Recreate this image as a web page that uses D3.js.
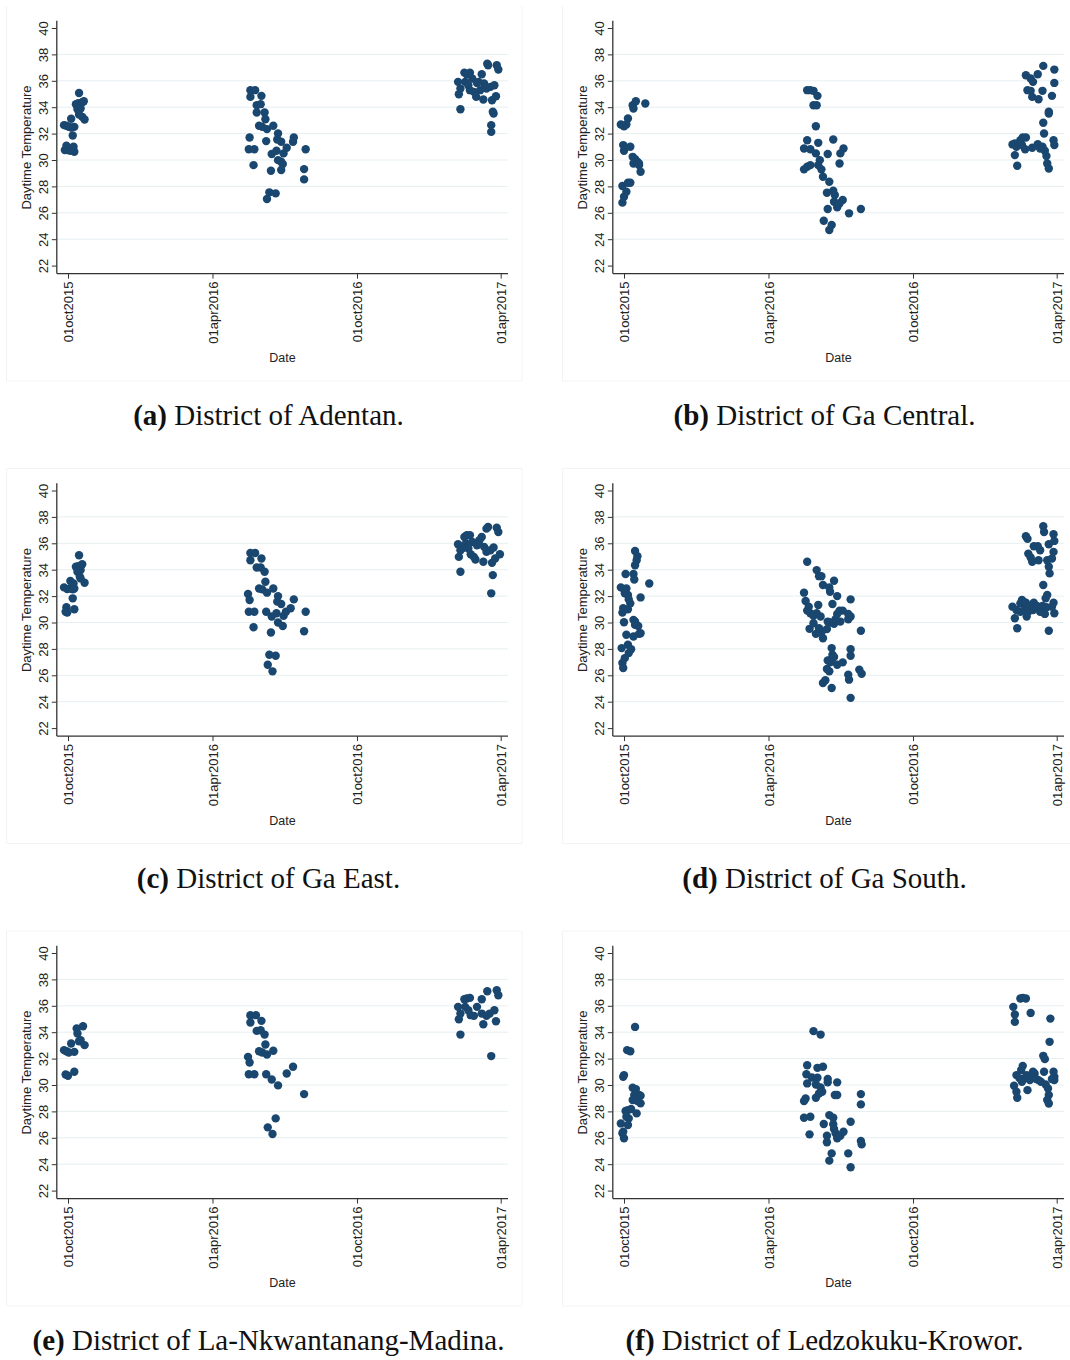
<!DOCTYPE html>
<html>
<head>
<meta charset="utf-8">
<script src="https://cdn.jsdelivr.net/npm/d3@7"></script>
<style>
  body { margin: 0; background: #fff; }
  svg { display: block; }
</style>
</head>
<body>
<svg id="chart" width="1070" height="1360"></svg>
<script>
// daytime temperature readings, [date, degrees]
const adentan = [
  ["2015-09-26",32.64],["2015-09-29",32.6],["2015-10-02",32.51],["2015-10-05",32.46],["2015-10-09",32.51],["2015-10-05",33.12],
  ["2015-09-29",31.08],["2015-09-30",30.75],["2015-09-27",30.75],["2015-10-04",30.7],["2015-10-07",31.86],["2015-10-08",31.0],
  ["2015-10-09",30.62],["2015-10-11",34.23],["2015-10-14",34.3],["2015-10-15",35.08],["2015-10-13",33.85],["2015-10-17",33.9],
  ["2015-10-19",34.38],["2015-10-21",34.45],["2015-10-19",33.27],["2015-10-22",33.07],["2015-10-15",33.45],
  ["2016-05-19",35.29],["2016-05-25",35.29],["2016-05-19",34.78],["2016-06-02",34.86],["2016-05-27",34.15],["2016-06-01",34.23],
  ["2016-05-27",33.6],["2016-06-06",33.6],["2016-06-07",33.09],["2016-05-30",32.59],["2016-06-03",32.51],["2016-06-09",32.34],
  ["2016-06-17",32.59],["2016-05-18",31.7],["2016-06-08",31.43],["2016-06-23",32.01],["2016-06-22",31.55],["2016-06-27",31.38],
  ["2016-07-13",31.7],["2016-07-12",31.38],["2016-05-17",30.82],["2016-05-24",30.82],["2016-07-04",30.93],["2016-06-21",30.7],
  ["2016-06-15",30.45],["2016-06-30",30.5],["2016-06-23",29.99],["2016-06-27",29.87],["2016-06-29",29.69],["2016-05-23",29.61],
  ["2016-06-14",29.19],["2016-06-27",29.24],["2016-07-28",30.82],["2016-07-26",29.31],["2016-07-26",28.53],["2016-06-12",27.55],
  ["2016-06-20",27.47],["2016-06-09",27.04],
  ["2017-02-06",35.92],["2017-02-07",34.98],["2017-02-09",33.85],["2017-02-09",35.41],["2017-02-14",36.62],["2017-02-17",36.5],
  ["2017-02-21",36.62],["2017-02-15",35.92],["2017-02-19",35.66],["2017-02-24",36.17],["2017-02-21",35.29],["2017-02-26",35.16],
  ["2017-03-01",34.78],["2017-03-02",35.84],["2017-03-08",36.5],["2017-03-10",34.58],["2017-03-11",35.79],["2017-03-14",35.41],
  ["2017-03-16",37.18],["2017-03-15",37.3],["2017-03-19",35.54],["2017-03-21",34.53],["2017-03-24",35.66],["2017-03-22",33.65],
  ["2017-03-23",33.52],["2017-03-20",32.64],["2017-03-20",32.13],["2017-03-26",34.83],["2017-03-27",37.18],["2017-03-29",36.85],
  ["2017-03-06",35.29],["2017-03-04",35.92]
];

const gaCentral = [
  ["2015-09-27",32.69],["2015-10-01",32.56],["2015-10-04",32.69],["2015-10-06",33.14],["2015-09-30",31.13],["2015-10-01",30.7],
  ["2015-10-09",31.0],["2015-09-29",28.03],["2015-10-06",28.28],["2015-10-09",28.28],["2015-10-04",27.6],["2015-10-01",27.22],
  ["2015-09-29",26.77],["2015-10-12",34.15],["2015-10-16",34.45],["2015-10-13",33.9],["2015-10-28",34.28],["2015-10-12",30.24],
  ["2015-10-15",30.07],["2015-10-18",29.87],["2015-10-13",29.74],["2015-10-20",29.61],["2015-10-22",29.11],["2015-10-20",29.74],
  ["2016-05-20",35.29],["2016-05-24",35.29],["2016-05-28",35.24],["2016-06-02",34.86],["2016-05-28",34.15],["2016-06-01",34.15],
  ["2016-05-31",32.56],["2016-05-20",31.5],["2016-06-03",31.3],["2016-06-22",31.55],["2016-05-16",30.87],["2016-05-24",30.82],
  ["2016-05-31",30.5],["2016-06-15",30.45],["2016-07-05",30.87],["2016-07-01",30.5],["2016-05-16",29.29],["2016-05-20",29.49],
  ["2016-05-24",29.61],["2016-06-05",29.99],["2016-06-03",29.61],["2016-06-07",29.29],["2016-06-30",29.74],["2016-06-09",28.73],
  ["2016-06-17",28.35],["2016-06-14",27.52],["2016-06-22",27.67],["2016-06-24",27.35],["2016-06-23",26.84],["2016-06-27",26.41],
  ["2016-06-30",26.72],["2016-07-04",26.97],["2016-06-15",26.29],["2016-07-12",25.96],["2016-07-27",26.29],["2016-06-10",25.4],
  ["2016-06-17",24.7],["2016-06-20",25.08],
  ["2017-02-04",31.18],["2017-02-07",30.37],["2017-02-10",29.56],["2017-02-07",31.25],["2017-02-09",31.0],["2017-02-14",31.5],
  ["2017-02-17",31.71],["2017-02-21",31.71],["2017-02-20",30.82],["2017-02-16",31.13],["2017-03-01",30.93],["2017-03-08",31.2],
  ["2017-03-11",30.87],["2017-03-14",31.0],["2017-03-17",30.7],["2017-03-19",30.3],["2017-03-20",29.74],["2017-03-22",29.36],
  ["2017-03-28",31.5],["2017-03-29",31.13],["2017-02-21",36.42],["2017-02-27",36.17],["2017-03-02",35.92],["2017-03-08",36.5],
  ["2017-03-15",37.13],["2017-03-29",36.85],["2017-03-29",35.84],["2017-02-23",35.29],["2017-02-27",35.24],["2017-03-01",34.78],
  ["2017-03-14",35.24],["2017-03-09",34.6],["2017-03-26",34.86],["2017-03-22",33.65],["2017-03-22",33.52],["2017-03-15",32.82],
  ["2017-03-16",32.01]
];

const gaEast = [
  ["2015-09-26",32.66],["2015-09-30",32.53],["2015-10-04",32.58],["2015-10-07",32.51],["2015-10-09",32.58],["2015-10-04",33.14],
  ["2015-10-08",32.96],["2015-10-07",31.83],["2015-09-29",31.15],["2015-09-30",30.75],["2015-09-28",30.82],["2015-10-09",31.0],
  ["2015-10-11",34.22],["2015-10-15",35.1],["2015-10-14",34.27],["2015-10-17",33.97],["2015-10-19",34.42],["2015-10-13",33.84],
  ["2015-10-17",33.34],["2015-10-22",33.01],["2015-10-16",33.46],
  ["2016-05-19",35.27],["2016-05-25",35.27],["2016-05-19",34.72],["2016-06-02",34.85],["2016-05-27",34.17],["2016-06-01",34.17],
  ["2016-06-06",33.84],["2016-06-07",33.09],["2016-05-30",32.58],["2016-06-03",32.51],["2016-06-09",32.26],["2016-06-17",32.58],
  ["2016-05-16",32.16],["2016-05-18",31.7],["2016-05-17",30.82],["2016-05-24",30.82],["2016-05-23",29.64],["2016-06-08",30.82],
  ["2016-06-14",29.24],["2016-06-23",32.0],["2016-06-22",31.58],["2016-06-27",31.4],["2016-06-21",30.7],["2016-06-15",30.45],
  ["2016-06-30",30.5],["2016-06-23",30.0],["2016-06-29",29.74],["2016-07-03",30.82],["2016-07-09",31.08],["2016-07-13",31.75],
  ["2016-07-28",30.82],["2016-07-26",29.34],["2016-06-12",27.56],["2016-06-20",27.48],["2016-06-10",26.8],["2016-06-16",26.3],
  ["2017-02-06",35.93],["2017-02-07",34.97],["2017-02-09",33.84],["2017-02-09",35.47],["2017-02-14",36.48],["2017-02-17",36.61],
  ["2017-02-21",36.61],["2017-02-16",35.98],["2017-02-19",35.6],["2017-02-24",36.1],["2017-02-22",35.17],["2017-02-28",34.77],
  ["2017-03-02",35.85],["2017-03-04",36.1],["2017-03-08",36.48],["2017-03-10",34.6],["2017-03-11",35.73],["2017-03-14",35.35],
  ["2017-03-16",37.23],["2017-03-14",37.11],["2017-03-19",35.47],["2017-03-21",34.52],["2017-03-23",35.68],["2017-03-22",33.59],
  ["2017-03-20",32.21],["2017-03-25",34.85],["2017-03-27",37.18],["2017-03-29",36.86],["2017-03-31",35.17],["2017-02-26",34.97],
  ["2017-03-05",36.23],["2017-02-11",35.6]
];

const gaSouth = [
  ["2015-09-27",32.66],["2015-10-01",32.51],["2015-10-04",32.58],["2015-10-03",33.67],["2015-10-02",32.21],["2015-10-06",32.08],
  ["2015-10-07",31.75],["2015-10-09",31.45],["2015-09-29",30.75],["2015-09-30",31.08],["2015-10-06",31.0],["2015-10-01",30.02],
  ["2015-10-04",29.07],["2015-09-28",28.06],["2015-10-06",28.31],["2015-10-10",27.98],["2015-10-07",27.68],["2015-10-02",27.3],
  ["2015-09-29",26.93],["2015-09-30",26.55],["2015-10-13",33.67],["2015-10-14",33.26],["2015-10-15",34.34],["2015-10-18",35.02],
  ["2015-10-15",35.42],["2015-10-17",34.72],["2015-10-22",31.9],["2015-11-02",32.96],["2015-10-13",30.2],["2015-10-15",29.82],
  ["2015-10-19",29.74],["2015-10-13",28.94],["2015-10-20",29.14],["2015-10-22",29.19],["2015-10-15",30.07],
  ["2016-05-20",34.6],["2016-06-01",33.97],["2016-06-04",33.51],["2016-06-07",33.51],["2016-06-09",32.84],["2016-06-17",32.66],
  ["2016-06-18",32.33],["2016-06-23",33.16],["2016-06-27",32.0],["2016-06-21",31.4],["2016-07-14",31.75],["2016-05-16",32.26],
  ["2016-05-18",31.63],["2016-05-22",31.2],["2016-05-24",30.7],["2016-06-03",31.33],["2016-05-20",30.9],["2016-05-28",30.5],
  ["2016-06-01",30.7],["2016-06-06",30.45],["2016-05-23",29.52],["2016-05-28",29.94],["2016-05-31",29.14],["2016-06-04",29.57],
  ["2016-06-07",29.24],["2016-06-09",28.81],["2016-06-14",29.5],["2016-06-15",30.07],["2016-06-19",30.0],["2016-06-23",29.9],
  ["2016-06-25",30.25],["2016-06-27",30.65],["2016-06-30",30.9],["2016-07-04",30.9],["2016-07-01",30.07],["2016-07-11",30.65],
  ["2016-07-14",30.45],["2016-07-11",30.25],["2016-07-27",29.37],["2016-06-20",28.06],["2016-06-21",27.56],["2016-06-23",27.38],
  ["2016-06-15",27.13],["2016-06-18",26.98],["2016-06-20",27.23],["2016-06-27",26.8],["2016-07-04",26.98],["2016-06-14",26.48],
  ["2016-06-17",26.3],["2016-07-14",27.98],["2016-07-14",27.48],["2016-07-11",26.05],["2016-07-12",25.67],["2016-07-25",26.43],
  ["2016-07-28",26.12],["2016-06-09",25.42],["2016-06-12",25.62],["2016-06-20",25.04],["2016-07-14",24.29],
  ["2017-02-04",31.2],["2017-02-07",30.32],["2017-02-10",29.57],["2017-02-09",30.95],["2017-02-14",31.45],["2017-02-16",31.7],
  ["2017-02-18",31.58],["2017-02-21",31.5],["2017-02-14",30.82],["2017-02-19",30.95],["2017-02-22",30.45],["2017-02-24",30.82],
  ["2017-02-27",31.2],["2017-03-03",31.5],["2017-03-02",30.95],["2017-03-07",31.25],["2017-03-11",30.82],["2017-03-14",31.25],
  ["2017-03-17",30.65],["2017-03-19",31.15],["2017-03-20",32.08],["2017-03-18",31.83],["2017-03-15",32.84],["2017-03-28",31.5],
  ["2017-03-29",30.7],["2017-03-26",31.2],["2017-03-22",29.37],["2017-02-21",36.53],["2017-02-23",36.35],["2017-02-24",35.22],
  ["2017-02-27",34.92],["2017-03-01",34.6],["2017-03-03",35.78],["2017-03-08",35.78],["2017-03-11",35.47],["2017-03-09",34.72],
  ["2017-03-15",37.29],["2017-03-16",36.86],["2017-03-20",34.72],["2017-03-22",34.22],["2017-03-23",33.72],["2017-03-22",35.93],
  ["2017-03-28",36.68],["2017-03-29",36.18],["2017-03-28",35.35],["2017-03-26",34.85]
];

const laNkwantanang = [
  ["2015-09-26",32.64],["2015-09-29",32.56],["2015-10-02",32.46],["2015-10-05",33.14],["2015-10-09",32.51],["2015-09-28",30.8],
  ["2015-10-01",30.7],["2015-10-09",31.0],["2015-10-12",34.28],["2015-10-13",33.9],["2015-10-17",33.4],["2015-10-20",34.45],
  ["2015-10-22",33.02],["2015-10-15",33.32],
  ["2016-05-19",35.29],["2016-05-26",35.29],["2016-05-19",34.73],["2016-06-02",34.86],["2016-05-27",34.1],["2016-06-01",34.15],
  ["2016-06-06",33.82],["2016-06-07",33.07],["2016-05-30",32.56],["2016-06-03",32.46],["2016-06-09",32.31],["2016-06-17",32.59],
  ["2016-05-16",32.13],["2016-05-18",31.7],["2016-05-17",30.82],["2016-05-24",30.82],["2016-06-08",30.82],["2016-06-15",30.42],
  ["2016-06-23",29.97],["2016-07-04",30.87],["2016-07-12",31.38],["2016-07-26",29.31],["2016-06-20",27.47],["2016-06-10",26.79],
  ["2016-06-16",26.29],
  ["2017-02-06",35.92],["2017-02-07",34.98],["2017-02-09",33.82],["2017-02-09",35.41],["2017-02-14",36.5],["2017-02-17",36.55],
  ["2017-02-21",36.6],["2017-02-15",35.92],["2017-02-19",35.66],["2017-02-22",35.29],["2017-02-26",35.24],["2017-03-02",35.92],
  ["2017-03-08",36.5],["2017-03-10",34.6],["2017-03-08",35.41],["2017-03-15",37.1],["2017-03-14",35.24],["2017-03-18",35.41],
  ["2017-03-24",35.66],["2017-03-20",32.19],["2017-03-26",34.83],["2017-03-27",37.18],["2017-03-29",36.8]
];

const ledzokuku = [
  ["2015-09-27",27.09],["2015-09-29",26.34],["2015-10-01",25.96],["2015-09-30",26.47],["2015-09-30",30.62],["2015-10-01",30.75],
  ["2015-10-05",32.64],["2015-10-09",32.56],["2015-10-15",34.4],["2015-10-03",28.03],["2015-10-06",28.1],["2015-10-10",28.18],
  ["2015-10-04",27.6],["2015-10-07",27.47],["2015-10-06",26.97],["2015-10-12",29.79],["2015-10-16",29.69],["2015-10-14",29.24],
  ["2015-10-20",29.24],["2015-10-22",29.19],["2015-10-12",28.86],["2015-10-22",28.61],["2015-10-17",27.85],["2015-10-18",28.78],
  ["2016-05-28",34.08],["2016-06-06",33.82],["2016-05-20",31.5],["2016-06-02",31.3],["2016-06-09",31.38],["2016-05-19",30.82],
  ["2016-05-26",30.57],["2016-06-02",30.55],["2016-06-15",30.45],["2016-06-15",30.2],["2016-06-27",30.2],["2016-05-20",30.12],
  ["2016-05-31",30.04],["2016-06-06",29.82],["2016-06-08",29.49],["2016-06-04",29.36],["2016-05-31",29.03],["2016-05-18",28.98],
  ["2016-05-16",28.78],["2016-06-24",29.24],["2016-06-27",29.24],["2016-07-27",29.31],["2016-07-27",28.53],["2016-05-16",27.52],
  ["2016-05-24",27.6],["2016-06-10",27.04],["2016-06-17",27.72],["2016-06-22",27.52],["2016-06-22",27.02],["2016-06-23",26.66],
  ["2016-06-25",26.34],["2016-06-27",25.96],["2016-07-01",26.16],["2016-07-05",26.46],["2016-07-14",27.22],["2016-05-23",26.26],
  ["2016-06-14",26.16],["2016-06-14",25.66],["2016-07-27",25.76],["2016-07-28",25.5],["2016-06-20",24.82],["2016-07-11",24.82],
  ["2016-06-17",24.27],["2016-07-14",23.77],
  ["2017-02-05",35.92],["2017-02-07",35.34],["2017-02-07",34.78],["2017-02-14",36.55],["2017-02-17",36.6],["2017-02-21",36.55],
  ["2017-02-27",35.46],["2017-03-24",35.03],["2017-03-23",33.27],["2017-03-15",32.21],["2017-03-17",31.96],["2017-02-17",31.45],
  ["2017-02-15",31.13],["2017-02-09",30.75],["2017-02-06",29.94],["2017-02-09",29.49],["2017-02-10",29.03],["2017-02-13",30.5],
  ["2017-02-16",30.24],["2017-02-19",30.5],["2017-02-22",30.75],["2017-02-23",29.61],["2017-02-26",30.37],["2017-03-01",30.55],
  ["2017-03-04",30.87],["2017-03-06",30.45],["2017-03-09",30.37],["2017-03-12",30.24],["2017-03-16",31.0],["2017-03-18",30.04],
  ["2017-03-21",29.74],["2017-03-22",29.24],["2017-03-20",28.86],["2017-03-22",28.6],["2017-03-28",31.0],["2017-03-29",30.62],
  ["2017-03-29",30.37],["2017-03-26",30.45],["2017-03-02",31.0]
];

const panelLetters = ["a", "b", "c", "d", "e", "f"];
const districtNames = ["Adentan", "Ga Central", "Ga East", "Ga South", "La-Nkwantanang-Madina", "Ledzokuku-Krowor"];
const seriesList = [adentan, gaCentral, gaEast, gaSouth, laNkwantanang, ledzokuku];
const yTicks = [22, 24, 26, 28, 30, 32, 34, 36, 38, 40];
const xTickDates = ["2015-10-01", "2016-04-01", "2016-10-01", "2017-04-01"];

const parseDay = d3.utcParse("%Y-%m-%d");
const fmtDay = d => d3.utcFormat("%d%b%Y")(d).toLowerCase();

const navy = "#1a476f";
const axisColor = "#333";
const sans = "'Liberation Sans', Arial, sans-serif";

// one layout for every panel, shifted by column / row
const colX = [0, 556];
const rowY = [0, 462.5, 925];
const left = 56.8, right = 508, axisY = 273.6, axisTop = 20.7;

const x = d3.scaleUtc()
  .domain([parseDay(xTickDates[0]), parseDay(xTickDates[xTickDates.length - 1])])
  .range([68, 500.7]);
const y = d3.scaleLinear().domain([22, 40]).range([265.6, 28]);

const svg = d3.select("#chart");

seriesList.forEach((series, i) => {
  const g = svg.append("g")
    .attr("transform", `translate(${colX[i % 2]},${rowY[Math.floor(i / 2)]})`);

  // faint graph frame
  const frame = d3.path();
  if (i > 1) { frame.moveTo(522, 6); frame.lineTo(6.5, 6); } else { frame.moveTo(6.5, 6); }
  frame.lineTo(6.5, 381);
  frame.lineTo(522, 381);
  frame.lineTo(522, 6);
  g.append("path").attr("d", frame.toString())
    .attr("fill", "none").attr("stroke", "#f2f4f4").attr("stroke-width", 1);

  // grid
  g.append("g").selectAll("line")
    .data(yTicks.filter(t => t > 22 && t < 40))
    .join("line")
    .attr("x1", left).attr("x2", right)
    .attr("y1", d => y(d)).attr("y2", d => y(d))
    .attr("stroke", "#e6eff1").attr("stroke-width", 1);

  // y axis
  g.append("g")
    .attr("transform", `translate(${left},0)`)
    .call(d3.axisLeft(y).tickValues(yTicks).tickSize(5).tickSizeOuter(0))
    .call(a => a.select(".domain").remove())
    .call(a => a.selectAll(".tick line").attr("stroke", axisColor))
    .call(a => a.selectAll("text")
      .attr("x", null).attr("dy", null)
      .attr("text-anchor", "middle")
      .attr("transform", "translate(-9.3,0) rotate(-90)")
      .attr("fill", "#222")
      .style("font-family", sans).style("font-size", "13px"));

  // x axis
  g.append("g")
    .attr("transform", `translate(0,${axisY})`)
    .call(d3.axisBottom(x).tickValues(xTickDates.map(parseDay)).tickFormat(fmtDay).tickSize(5).tickSizeOuter(0))
    .call(a => a.select(".domain").remove())
    .call(a => a.selectAll(".tick line").attr("stroke", axisColor))
    .call(a => a.selectAll("text")
      .attr("y", null).attr("dy", null)
      .attr("text-anchor", "end")
      .attr("transform", "translate(4.7,8) rotate(-90)")
      .attr("fill", "#222")
      .style("font-family", sans).style("font-size", "13px"));

  // axis lines
  g.append("line")
    .attr("x1", left).attr("x2", left).attr("y1", axisTop).attr("y2", axisY)
    .attr("stroke", axisColor).attr("stroke-width", 1.3);
  g.append("line")
    .attr("x1", left).attr("x2", right).attr("y1", axisY).attr("y2", axisY)
    .attr("stroke", axisColor).attr("stroke-width", 1.3);

  // axis titles
  g.append("text")
    .attr("transform", `translate(31,147.5) rotate(-90)`)
    .attr("text-anchor", "middle")
    .style("font-family", sans).style("font-size", "13px").attr("fill", "#222")
    .text("Daytime Temperature");
  g.append("text")
    .attr("x", (left + right) / 2).attr("y", 362)
    .attr("text-anchor", "middle")
    .style("font-family", sans).style("font-size", "12.5px").attr("fill", "#222")
    .text("Date");

  // points
  g.append("g").selectAll("circle")
    .data(series)
    .join("circle")
    .attr("cx", d => x(parseDay(d[0])))
    .attr("cy", d => y(d[1]))
    .attr("r", 4.2)
    .attr("fill", navy);

  // caption
  const cap = g.append("text")
    .attr("x", 268.5).attr("y", 425)
    .attr("text-anchor", "middle")
    .style("font-family", "'Liberation Serif', 'Times New Roman', serif")
    .style("font-size", "29px").attr("fill", "#111");
  cap.append("tspan").attr("font-weight", "bold").text(`(${panelLetters[i]})`);
  cap.append("tspan").text(` District of ${districtNames[i]}.`);
});
</script>
</body>
</html>
